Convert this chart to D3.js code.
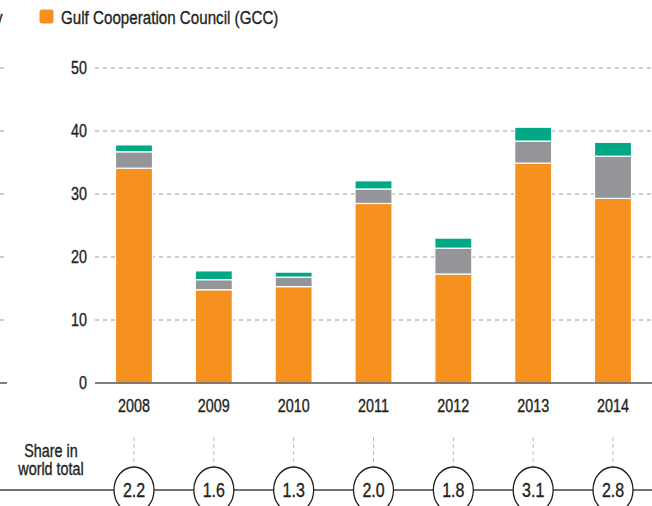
<!DOCTYPE html>
<html>
<head>
<meta charset="utf-8">
<script src="https://cdn.jsdelivr.net/npm/d3@7"></script>
<style>
  body { margin: 0; background: #fff; }
  svg { display: block; font-family: "Liberation Sans", Arial, sans-serif; }
</style>
</head>
<body>
<svg id="chart" width="652" height="506"></svg>
<script>
// data
const years = ["2008", "2009", "2010", "2011", "2012", "2013", "2014"];
const gcc = [34.1, 14.8, 15.3, 28.5, 17.3, 34.9, 29.3];
const other = [2.6, 1.6, 1.5, 2.3, 4.1, 3.5, 6.7];
const rest = [1.1, 1.4, 0.8, 1.3, 1.6, 2.2, 2.2];
const share = ["2.2", "1.6", "1.3", "2.0", "1.8", "3.1", "2.8"];
const yTicks = [0, 10, 20, 30, 40, 50];

const colors = { gcc: "#f6901e", other: "#939598", rest: "#00a886" };
const ink = "#231f20";
const squeeze = 0.82; // the original uses a condensed face

const svg = d3.select("#chart");

// condensed looking text: normal face squeezed horizontally, a bit heavier
function label(parent, x, y, txt, size, anchor) {
    return parent.append("text")
        .attr("transform", `translate(${x},${y}) scale(${squeeze},1)`)
        .attr("text-anchor", anchor || "start")
        .attr("font-size", size)
        .attr("fill", ink)
        .attr("stroke", ink).attr("stroke-width", 0.35)
        .text(txt);
}

const y = d3.scaleLinear().domain([0, 50]).range([383, 68]);
const x = d3.scalePoint().domain(years).range([134, 613]);
const barW = 37;

// leftovers of the neighbouring panel (cut off on the left)
label(svg, -5, 24, "y", 18.5);
svg.selectAll("line.stub").data(yTicks).join("line")
    .attr("class", "stub")
    .attr("x1", 0).attr("x2", 7)
    .attr("y1", d => y(d)).attr("y2", d => y(d))
    .attr("stroke", d => d === 0 ? "#555" : "#999")
    .attr("stroke-width", d => d === 0 ? 1.5 : 1)
    .attr("stroke-dasharray", d => d === 0 ? null : "4,4");

// legend
svg.append("rect").attr("x", 39.5).attr("y", 9.5).attr("width", 14).attr("height", 14)
    .attr("rx", 2.5).attr("fill", colors.gcc);
label(svg, 61, 24, "Gulf Cooperation Council (GCC)", 18.5);

// grid + y axis
svg.append("g").selectAll("line").data(yTicks.filter(d => d > 0)).join("line")
    .attr("x1", 95).attr("x2", 652)
    .attr("y1", d => y(d)).attr("y2", d => y(d))
    .attr("stroke", "#9a9a9a").attr("stroke-dasharray", "4,4");
const yLabels = svg.append("g");
yTicks.forEach(t => label(yLabels, 87, y(t) + 6, t, 17.5, "end"));

// stacked bars
const rows = years.map((yr, i) => ({ year: yr, gcc: gcc[i], other: other[i], rest: rest[i] }));
const stack = d3.stack().keys(["gcc", "other", "rest"])(rows);
svg.append("g").selectAll("g").data(stack).join("g")
    .attr("fill", d => colors[d.key])
    .selectAll("rect").data(d => d).join("rect")
    .attr("x", d => x(d.data.year) - barW / 2)
    .attr("width", barW)
    .attr("y", d => y(d[1]))
    .attr("height", d => y(d[0]) - y(d[1]))
    .attr("stroke", "#fff").attr("stroke-width", 1.2);

// zero line
svg.append("line").attr("x1", 95).attr("x2", 652)
    .attr("y1", y(0)).attr("y2", y(0))
    .attr("stroke", "#555").attr("stroke-width", 1.5);

// x labels
const xLabels = svg.append("g");
years.forEach(yr => label(xLabels, x(yr), 412, yr, 17.5, "middle"));

// share in world total row
const rowY = 490;
label(svg, 51, 457, "Share in", 17.5, "middle");
label(svg, 51, 475, "world total", 17.5, "middle");
svg.append("line").attr("x1", 0).attr("x2", 652)
    .attr("y1", rowY).attr("y2", rowY)
    .attr("stroke", "#444").attr("stroke-width", 1.3);
svg.append("g").selectAll("line").data(years).join("line")
    .attr("x1", d => x(d)).attr("x2", d => x(d))
    .attr("y1", 437).attr("y2", 467)
    .attr("stroke", "#bbb").attr("stroke-dasharray", "4,3");
const bubbles = svg.append("g").selectAll("g").data(years).join("g")
    .attr("transform", d => `translate(${x(d)},${rowY})`);
bubbles.append("ellipse").attr("rx", 20).attr("ry", 23)
    .attr("fill", "#fff").attr("stroke", ink).attr("stroke-width", 1.3);
bubbles.each(function (d, i) {
    label(d3.select(this), 0, 7, share[i], 19.5, "middle");
});
</script>
</body>
</html>
